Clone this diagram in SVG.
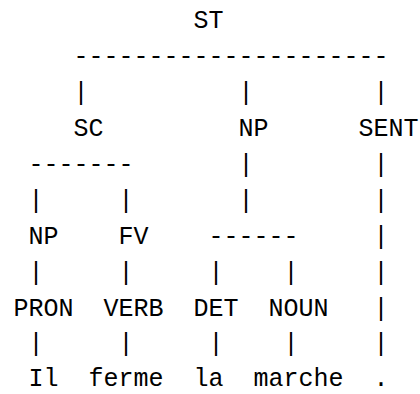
<svg xmlns="http://www.w3.org/2000/svg" width="420" height="394" viewBox="0 0 420 394">
<style>
text{font-family:"Liberation Mono","DejaVu Sans Mono",monospace;font-size:25px;fill:#000;text-anchor:middle}
.s{text-anchor:start}
</style>
<rect width="420" height="394" fill="#fff"/>
<g id="connectors">
<text class="s" x="73.5" y="64">---------------------</text>
<text x="81" y="100">|</text><text x="246" y="100">|</text><text x="381" y="100">|</text>
<text class="s" x="28.5" y="172">-------</text>
<text x="246" y="172">|</text><text x="381" y="172">|</text>
<text x="36" y="208">|</text><text x="126" y="208">|</text><text x="246" y="208">|</text><text x="381" y="208">|</text>
<text class="s" x="208.5" y="244">------</text>
<text x="381" y="244">|</text>
<text x="36" y="280">|</text><text x="126" y="280">|</text><text x="216" y="280">|</text><text x="291" y="280">|</text><text x="381" y="280">|</text>
<text x="381" y="316">|</text>
<text x="36" y="351">|</text><text x="126" y="351">|</text><text x="216" y="351">|</text><text x="291" y="351">|</text><text x="381" y="351">|</text>
</g>
<g id="n-st"><text x="208.5" y="28">ST</text></g>
<g id="n-sc"><text x="88.5" y="136">SC</text></g>
<g id="n-np1"><text x="253.5" y="136">NP</text></g>
<g id="n-sent"><text x="388.5" y="136">SENT</text></g>
<g id="n-np2"><text x="43.5" y="244">NP</text></g>
<g id="n-fv"><text x="133.5" y="244">FV</text></g>
<g id="n-pron"><text x="43.5" y="316">PRON</text></g>
<g id="n-verb"><text x="133.5" y="316">VERB</text></g>
<g id="n-det"><text x="216" y="316">DET</text></g>
<g id="n-noun"><text x="298.5" y="316">NOUN</text></g>
<g id="n-il"><text x="43.5" y="386">Il</text></g>
<g id="n-ferme"><text x="126" y="386">ferme</text></g>
<g id="n-la"><text x="208.5" y="386">la</text></g>
<g id="n-marche"><text x="298.5" y="386">marche</text></g>
<g id="n-dot"><text x="381" y="386">.</text></g>
</svg>
